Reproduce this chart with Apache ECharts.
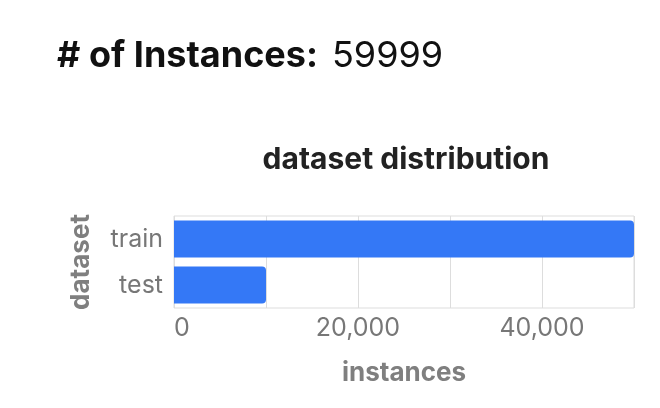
<!DOCTYPE html>
<html>
<head>
<meta charset="utf-8">
<script src="https://cdn.jsdelivr.net/npm/echarts@6/dist/echarts.min.js"></script>
<style>html,body{margin:0;padding:0;background:#fff}#c{width:660px;height:408px}</style>
</head>
<body>
<div id="c"></div>
<script>
const categories = ['train', 'test'];
const instances = [49999, 10000];
const totalInstances = 59999;
const xTicks = [0, 20000, 40000];

const chart = echarts.init(document.getElementById('c'));
const F = 'Inter, "Noto Sans", sans-serif';
chart.setOption({
  animation: false,
  title: [
    {
      text: '{b|# of Instances:}{g|}{n|' + totalInstances + '}',
      left: 52, top: 33,
      textStyle: {
        rich: {
          b: { fontFamily: F, fontSize: 36, fontWeight: 'bold', color: '#111' },
          g: { width: 14 },
          n: { fontFamily: F, fontSize: 36, fontWeight: 'normal', color: '#111' }
        }
      }
    },
    {
      text: 'dataset distribution',
      left: 401, top: 140, textAlign: 'center',
      textStyle: { fontFamily: F, fontSize: 30, fontWeight: 'bold', color: '#222' }
    }
  ],
  grid: { left: 174, right: 26, top: 216, bottom: 100, show: true, borderColor: '#ddd', borderWidth: 1 },
  xAxis: {
    type: 'value', min: 0, max: 50000, interval: 10000,
    name: 'instances', nameLocation: 'middle', nameGap: 52,
    nameTextStyle: { fontFamily: F, fontSize: 26, fontWeight: 'bold', color: '#7f7f7f' },
    axisLine: { show: false }, axisTick: { show: false },
    splitLine: { show: true, lineStyle: { color: '#ddd', width: 1 } },
    axisLabel: {
      fontFamily: F, fontSize: 25, color: '#777', margin: 8,
      alignMinLabel: 'left',
      formatter: v => xTicks.indexOf(v) >= 0 ? v.toLocaleString('en-US') : ''
    }
  },
  yAxis: {
    type: 'category', data: categories, inverse: true,
    name: 'dataset', nameLocation: 'middle', nameGap: 80, nameRotate: 90,
    nameTextStyle: { fontFamily: F, fontSize: 26, fontWeight: 'bold', color: '#7f7f7f' },
    axisLine: { show: false }, axisTick: { show: false },
    splitLine: { show: false },
    axisLabel: { fontFamily: F, fontSize: 25, color: '#777', margin: 11 }
  },
  series: [{
    type: 'bar', data: instances, barCategoryGap: '20%',
    itemStyle: { color: '#3478f6', borderRadius: [0, 4, 4, 0] }
  }]
});
</script>
</body>
</html>
